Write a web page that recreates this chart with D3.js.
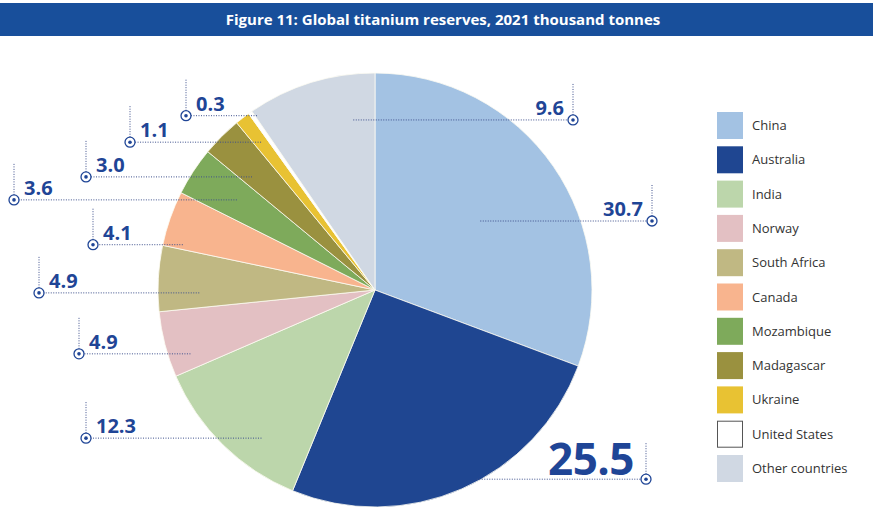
<!DOCTYPE html>
<html>
<head>
<meta charset="utf-8">
<script src="https://cdn.jsdelivr.net/npm/d3@7"></script>
<style>
  body { margin: 0; background: #fff; }
  svg { display: block; font-family: "Open Sans", sans-serif; }
</style>
</head>
<body>
<svg id="chart" width="877" height="525"></svg>
<script>
// reserves, thousand tonnes (as shares)
var countries = ["China", "Australia", "India", "Norway", "South Africa", "Canada",
                 "Mozambique", "Madagascar", "Ukraine", "United States", "Other countries"];
var reserves = [30.7, 25.5, 12.3, 4.9, 4.9, 4.1, 3.6, 3.0, 1.1, 0.3, 9.6];
var labels = ["30.7", "25.5", "12.3", "4.9", "4.9", "4.1", "3.6", "3.0", "1.1", "0.3", "9.6"];

var colors = ["#a3c2e3", "#1f4691", "#bcd6ab", "#e3c0c3", "#c0b883", "#f8b48e",
              "#7eaa5b", "#9a913f", "#e8c233", "#ffffff", "#d0d8e3"];

// leader layout: radius fraction, angle shift (deg), marker x
var leaderFrac = [0.58, 0.99, 0.86, 0.90, 0.81, 0.91, 0.76, 0.77, 0.86, 0.97, 0.79];
var leaderShift = [1.5, -4.7, -7, -4.5, -4, -6, 0, -2.4, 0, 1, 10];
var markerX = [652, 646, 86, 79, 39, 93, 14, 86, 130, 186, 573];

var svg = d3.select("#chart");
var blue = "#1f4596";

// header
svg.append("rect")
    .attr("x", 0).attr("y", 3)
    .attr("width", 873).attr("height", 33)
    .attr("fill", "#184f9b");
svg.append("text")
    .attr("x", 443).attr("y", 25)
    .attr("text-anchor", "middle")
    .attr("fill", "#fff")
    .attr("font-size", 15)
    .attr("font-weight", 700)
    .text("Figure 11: Global titanium reserves, 2021 thousand tonnes");

var cx = 375, cy = 290, r = 217;

var data = countries.map(function(c, i) { return {name: c, value: reserves[i], i: i}; });

var pie = d3.pie()
    .sort(null)
    .value(function(d) { return d.value; });

var arc = d3.arc().innerRadius(0).outerRadius(r);

var arcs = pie(data);

var g = svg.append("g").attr("transform", "translate(" + cx + "," + cy + ")");

g.selectAll("path.slice")
    .data(arcs)
    .enter()
    .append("path")
    .classed("slice", true)
    .attr("d", arc)
    .attr("fill", function(d) { return colors[d.data.i]; })
    .attr("stroke", "#fdfbf2")
    .attr("stroke-width", 0.8);

// leaders
var leaders = svg.append("g");
arcs.forEach(function(d) {
    var i = d.data.i;
    var a = (d.startAngle + d.endAngle) / 2 + leaderShift[i] * Math.PI / 180;
    var rr = r * leaderFrac[i];
    var x0 = cx + rr * Math.sin(a);
    var y0 = cy - rr * Math.cos(a);
    var mx = markerX[i];
    var right = mx > cx;
    var big = i === 1;

    leaders.append("line")
        .attr("x1", x0).attr("y1", y0)
        .attr("x2", mx).attr("y2", y0)
        .attr("stroke", "#3d4f8c")
        .attr("stroke-width", 1)
        .attr("stroke-dasharray", "1,1.5");
    leaders.append("line")
        .attr("x1", mx).attr("y1", y0)
        .attr("x2", mx).attr("y2", y0 - 36)
        .attr("stroke", "#3d4f8c")
        .attr("stroke-width", 1)
        .attr("stroke-dasharray", "1,1.5");
    leaders.append("circle")
        .attr("cx", mx).attr("cy", y0).attr("r", 5)
        .attr("fill", "#fff")
        .attr("stroke", blue)
        .attr("stroke-width", 1.3);
    leaders.append("circle")
        .attr("cx", mx).attr("cy", y0).attr("r", 1.8)
        .attr("fill", blue);

    leaders.append("text")
        .attr("x", right ? mx - (big ? 12 : 9) : mx + 10)
        .attr("y", y0 - (big ? 4 : 5))
        .attr("text-anchor", right ? "end" : "start")
        .attr("fill", blue)
        .attr("font-size", big ? 44 : 20)
        .attr("font-weight", 700)
        .attr("letter-spacing", big ? -0.5 : 0)
        .text(labels[i]);
});

// legend
var legend = svg.append("g")
    .selectAll("g.item")
    .data(data)
    .enter()
    .append("g")
    .classed("item", true)
    .attr("transform", function(d, i) { return "translate(717," + (112 + i * 34.3) + ")"; });

legend.append("rect")
    .attr("x", function(d) { return d.i === 9 ? 0.5 : 0; })
    .attr("y", function(d) { return d.i === 9 ? 0.5 : 0; })
    .attr("width", function(d) { return d.i === 9 ? 25 : 26; })
    .attr("height", function(d) { return d.i === 9 ? 26 : 27; })
    .attr("fill", function(d) { return colors[d.i]; })
    .attr("stroke", function(d) { return d.i === 9 ? "#555" : "none"; });

legend.append("text")
    .attr("x", 35)
    .attr("y", 18)
    .attr("fill", "#333")
    .attr("font-size", 13)
    .text(function(d) { return d.name; });
</script>
</body>
</html>
